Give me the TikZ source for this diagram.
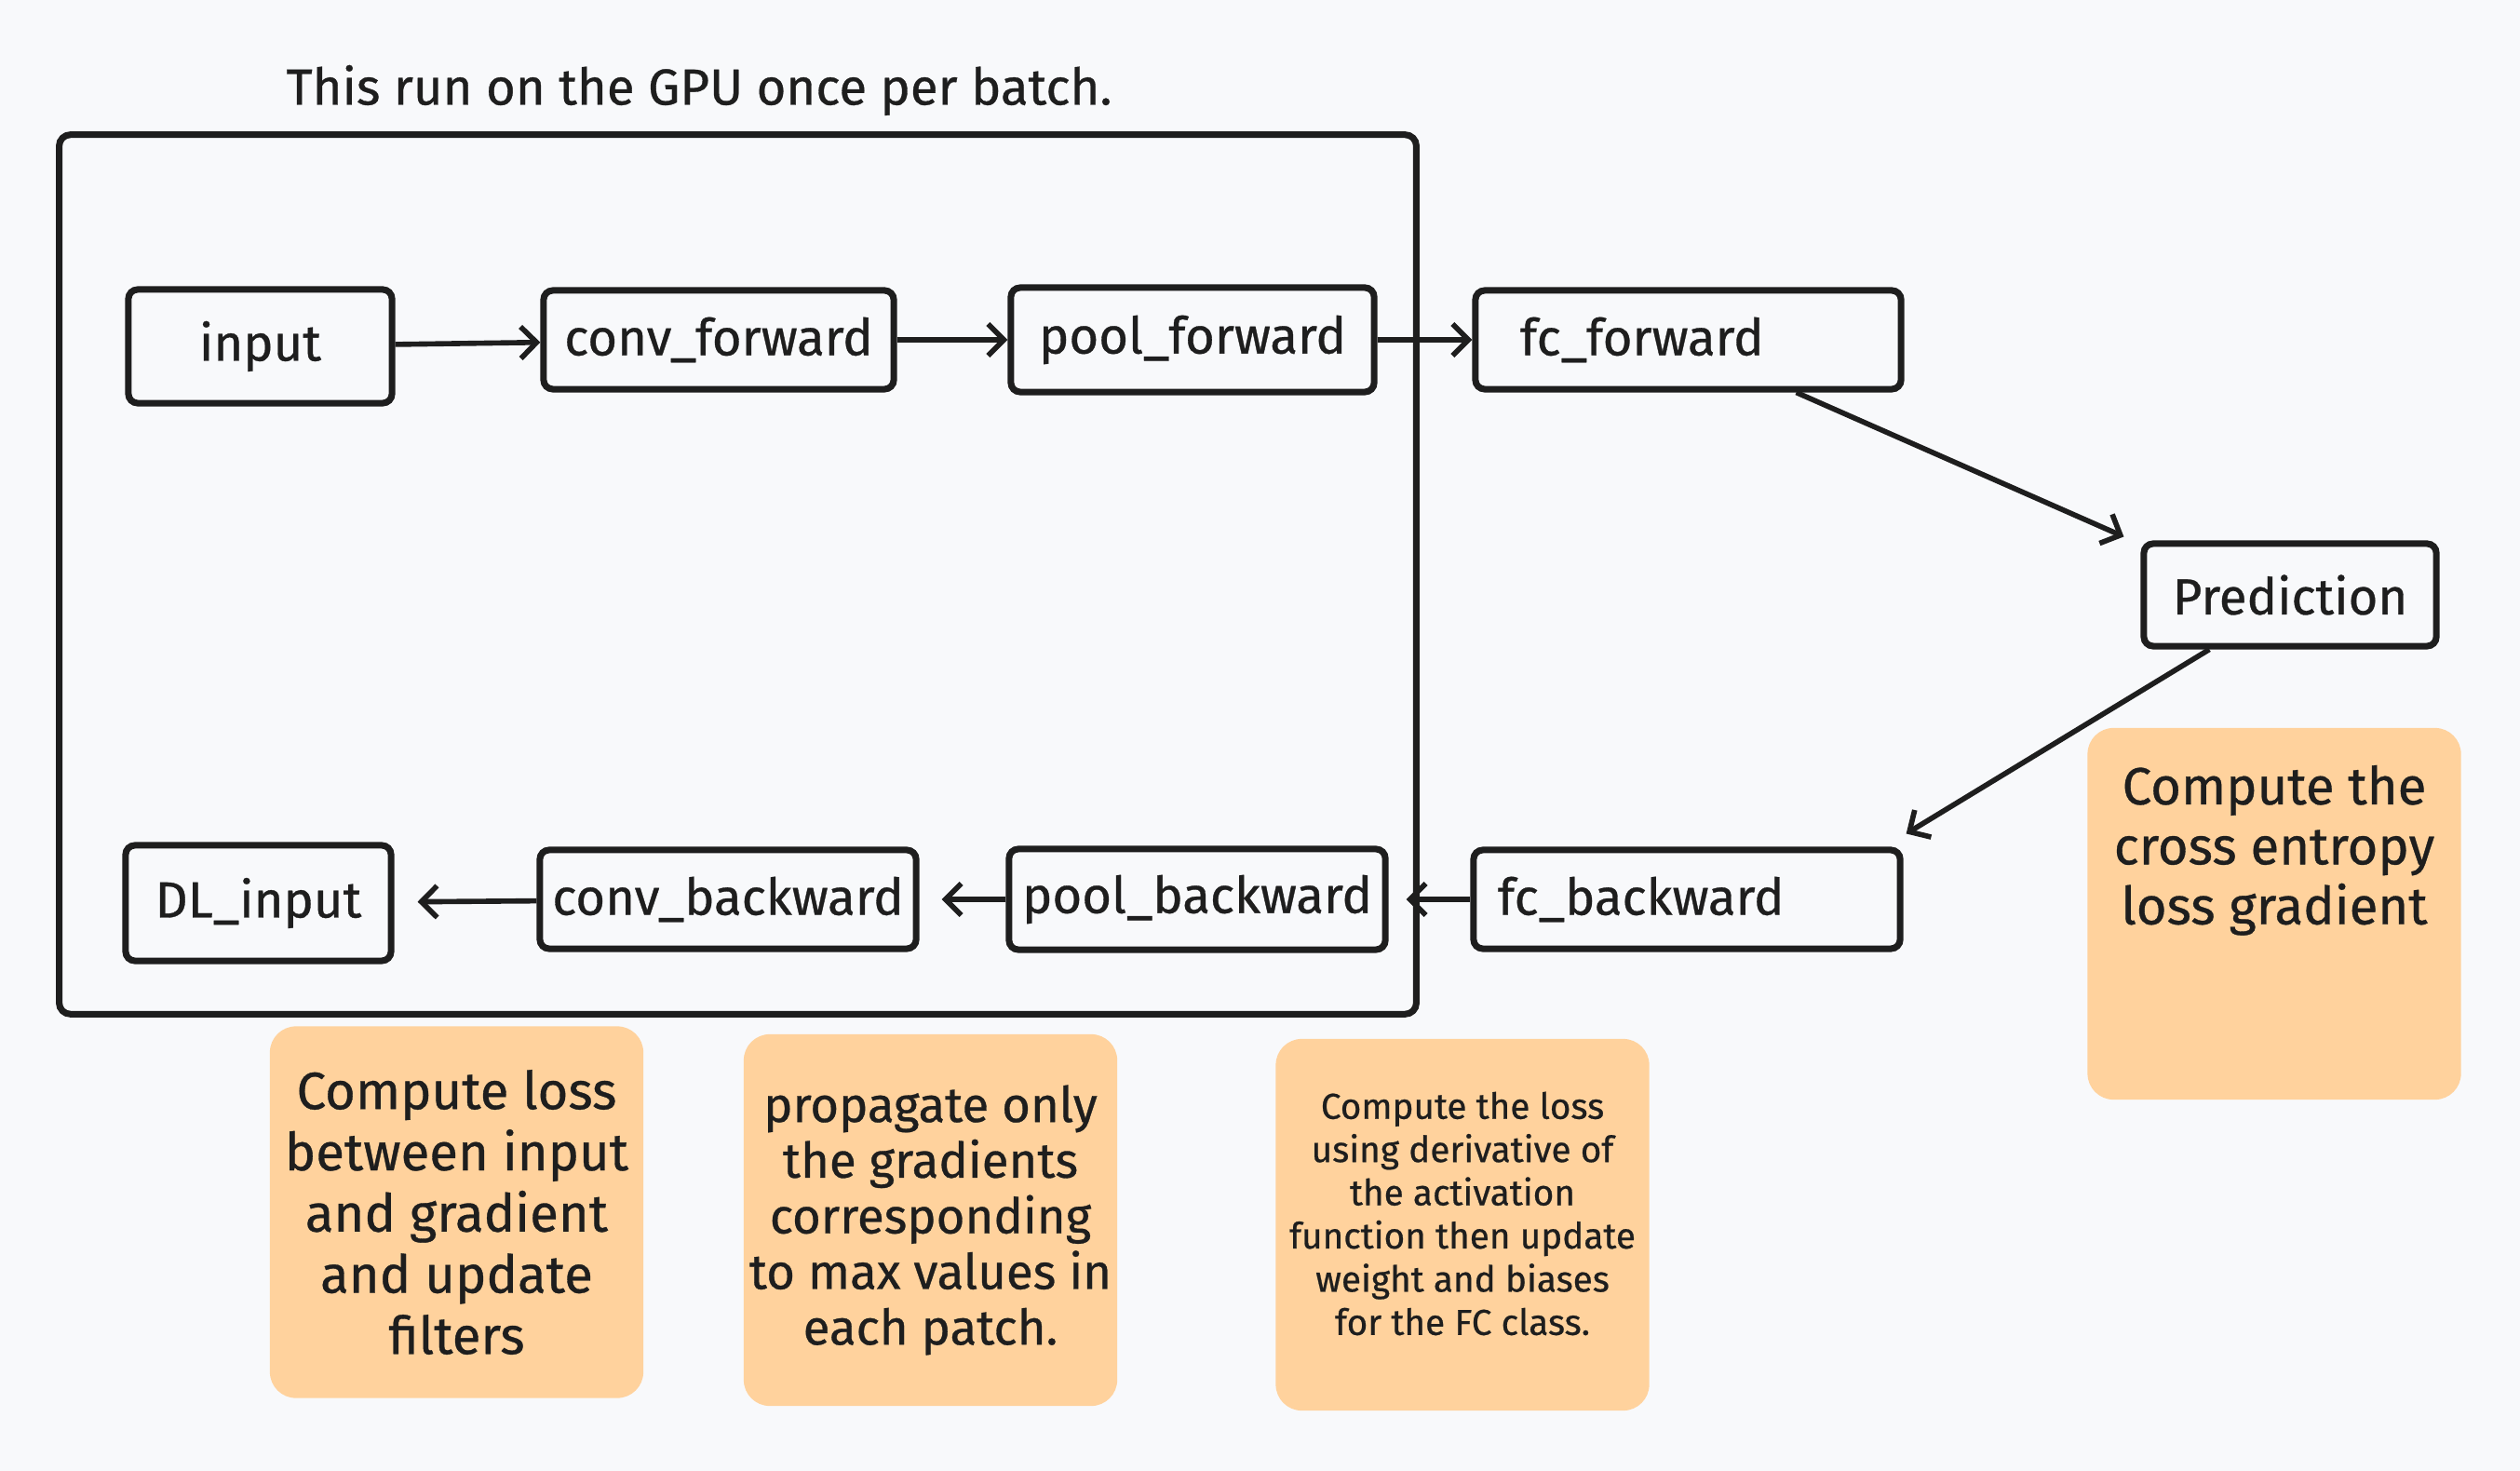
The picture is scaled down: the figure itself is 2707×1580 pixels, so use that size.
\documentclass[tikz,border=0pt]{standalone}
\usepackage{fontspec}
\setmainfont{Fira Sans}[UprightFeatures={FakeBold=0.6}]
\usetikzlibrary{arrows.meta,calc}

\definecolor{canvas}{HTML}{F8F9FB}
\definecolor{ink}{HTML}{1E1E1E}
\definecolor{notefill}{HTML}{FFD29D}

\tikzset{
    stagebox/.style={
        draw=ink,
        line width=2pt,
        rounded corners=0.1cm,
        inner sep=0pt,
        text=ink,
        font=\fontsize{15.5}{18}\selectfont
    },
    notebox/.style={
        fill=notefill,
        rounded corners=0.28cm,
        inner sep=0pt,
        minimum width=4.01cm,
        minimum height=3.99cm,
        align=center,
        text=ink
    },
    flow/.style={
        draw=ink,
        line width=1.6pt,
        -{Straight Barb[length=0.17cm,width=0.34cm,line width=1.6pt]}
    }
}

\begin{document}
\begin{tikzpicture}[x=0.01cm,y=-0.01cm]
    \fill[canvas] (0,0) rectangle (2707,1580);
    \useasboundingbox (0,0) rectangle (2707,1580);

    % frame for the GPU part
    \node[draw=ink, line width=2pt, rounded corners=0.12cm, minimum width=14.57cm, minimum height=9.44cm] (gpuframe) at (792.5,617) {};
    \node[text=ink, font=\fontsize{15.5}{18}\selectfont] (title) at (751,97) {This run on the GPU once per batch.};

    % forward pass
    \node[stagebox, minimum width=2.83cm, minimum height=1.22cm] (input) at (279.5,372) {input};
    \node[stagebox, minimum width=3.76cm, minimum height=1.06cm] (convfwd) at (772,365) {conv\_forward};
    \node[stagebox, minimum width=3.90cm, minimum height=1.12cm] (poolfwd) at (1281,365) {pool\_forward};
    \node[stagebox, minimum height=1.06cm, text width=3.61cm, inner xsep=0.48cm, align=left] (fcfwd) at (1813.5,365) {fc\_forward};
    \node[stagebox, minimum width=3.14cm, minimum height=1.10cm] (pred) at (2460,639) {Prediction};

    % backward pass
    \node[stagebox, minimum height=1.06cm, text width=4.06cm, inner xsep=0.26cm, align=left] (fcbwd) at (1812,966) {fc\_backward};
    \node[stagebox, minimum width=4.04cm, minimum height=1.08cm] (poolbwd) at (1286,966) {pool\_backward};
    \node[stagebox, minimum width=4.04cm, minimum height=1.06cm] (convbwd) at (782,966) {conv\_backward};
    \node[stagebox, minimum width=2.85cm, minimum height=1.24cm] (dlinput) at (277.5,970) {DL\_input};

    \draw[flow] (input) -- (convfwd);
    \draw[flow] (convfwd) -- (poolfwd);
    \draw[flow] (poolfwd) -- (fcfwd);
    \draw[flow] ($(fcfwd.south)!0.5!(fcfwd.south east)$) -- ($(pred.north west)+(-18,-4)$);
    \draw[flow] ($(pred.south west)!0.23!(pred.south east)$) -- ($(fcbwd.north east)+(3,-14)$);
    \draw[flow, shorten >=0.19cm] (fcbwd) -- (poolbwd);
    \draw[flow, shorten >=0.24cm] (poolbwd) -- (convbwd);
    \draw[flow, shorten >=0.25cm] (convbwd) -- (dlinput);

    % notes
    \node[notebox, font=\fontsize{16}{18.7}\selectfont] (convnote) at (490.5,1302) {Compute loss\\between input\\and gradient\\and update\\filters};
    \node[notebox, font=\fontsize{15}{17}\selectfont] (poolnote) at (999.5,1310.5) {propagate only\\the gradients\\corresponding\\to max values in\\each patch.};
    \node[notebox, font=\fontsize{11}{13.2}\selectfont] (fcnote) at (1571,1315.5) {\parbox{3.9cm}{\centering Compute the loss\\using derivative of\\the activation\\function then update\\weight and biases\\for the FC class.\par\vspace*{0.24cm}}};
    \node[notebox, font=\fontsize{16}{18.3}\selectfont] (prednote) at (2443,981.5) {\parbox[t][3.99cm][t]{3.9cm}{\centering\vspace*{0.4cm}Compute the\\cross entropy\\loss gradient}};
\end{tikzpicture}
\end{document}
